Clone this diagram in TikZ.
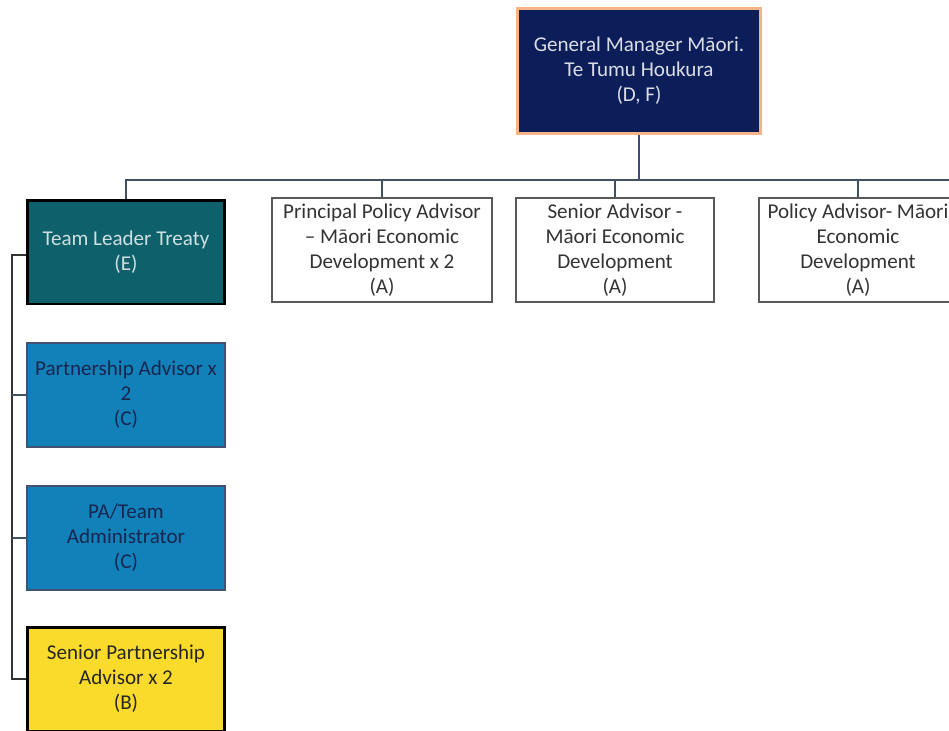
\documentclass[tikz,border=0pt]{standalone}
\usepackage{fontspec}
\setmainfont{Carlito}
\usepackage{xcolor}
\usetikzlibrary{positioning}
\definecolor{MNavy}{RGB}{12,30,90}
\definecolor{MPeach}{RGB}{244,180,136}
\definecolor{MTeal}{RGB}{14,97,106}
\definecolor{MBlue}{RGB}{18,129,186}
\definecolor{MYellow}{RGB}{250,218,42}
\definecolor{MLine}{RGB}{62,82,96}
\definecolor{MInk}{RGB}{22,38,78}

\begin{document}
\begin{tikzpicture}[x=0.02cm, y=-0.02cm,
          role/.style={rectangle, align=center, inner sep=2pt,
                       minimum width=3.96cm, minimum height=2.08cm,
                       font=\fontsize{12}{14.2}\selectfont},
          gm/.style={role, fill=MNavy, draw=MPeach, line width=1.8pt,
                     text=white!85!MNavy, minimum width=4.85cm,
                     minimum height=2.5cm},
          lead/.style={role, fill=MTeal, draw=black, line width=1.7pt,
                       text=white!80!MTeal},
          adv/.style={role, fill=white, draw=black!65, line width=0.7pt,
                      text=black!80},
          part/.style={role, fill=MBlue, draw=MInk!80, line width=0.7pt,
                       text=MInk},
          senior/.style={role, fill=MYellow, draw=black, line width=1.7pt,
                         text=black!85},
          link/.style={draw=MLine, line width=0.8pt}
        ]
        \useasboundingbox (0,0) rectangle (949,730);
        \clip (0,0) rectangle (949,730);

        % General manager
        \node[gm] (gm) at (639,71) {General Manager Māori.\\Te Tumu Houkura\\(D, F)};

        % Direct reports
        \node[lead] (tlt) at (126,252) {Team Leader Treaty\\(E)};
        \node[adv, minimum width=4.4cm] (ppa) at (382,250)
             {Principal Policy Advisor\\– Māori Economic\\Development x 2\\(A)};
        \node[adv] (sam) at (615,250) {Senior Advisor -\\Māori Economic\\Development\\(A)};
        \node[adv] (pam) at (858,250) {Policy Advisor- Māori\\Economic\\Development\\(A)};

        % Treaty team
        \node[part] (pad) at (126,395) {Partnership Advisor x\\2\\(C)};
        \node[part] (pat) at (126,538) {PA/Team\\Administrator\\(C)};
        \node[senior] (spa) at (126,679) {Senior Partnership\\Advisor x 2\\(B)};

        % Connectors
        \coordinate (busR) at (955,180);
        \coordinate (spine) at (12,255);
        \draw[link, draw=MNavy!80] (gm.south) -- (gm.south |- busR);
        \draw[link] (tlt.north) |- (busR);
        \foreach \n in {ppa,sam,pam} {
          \draw[link] (\n.north) -- (\n.north |- busR);
        }
        \draw[link, draw=black!80] (tlt.west |- spine) -- (spine) -- (spine |- spa.west) -- (spa.west);
        \foreach \n in {pad,pat} {
          \draw[link] (\n.west) -- (\n.west -| spine);
        }
      \end{tikzpicture}
\end{document}
